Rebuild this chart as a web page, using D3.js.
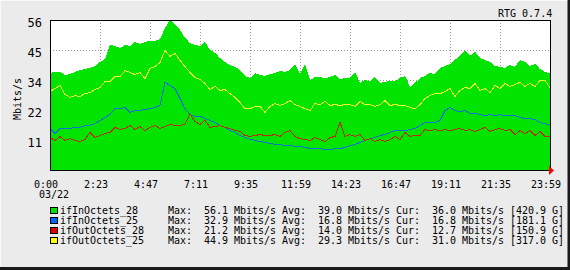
<!DOCTYPE html>
<html>
<head>
<meta charset="utf-8">
<script src="https://cdn.jsdelivr.net/npm/d3@7"></script>
<style>
  body { margin: 0; background: #ebebeb; }
  svg { display: block; font-family: "DejaVu Sans Mono", monospace; }
  text { white-space: pre; }
</style>
</head>
<body>
<div id="chart"></div>
<script>
// ==============================
// DATA (Mbits/s, ~14 min per sample)
// ==============================

const seriesNames = ["ifInOctets_28", "ifInOctets_25", "ifOutOctets_28", "ifOutOctets_25"];
const seriesColors = ["#00e400", "#0064ff", "#e00000", "#ffff00"];
const maxVals = ["56.1", "32.9", "21.2", "44.9"];
const avgVals = ["39.0", "16.8", "14.0", "29.3"];
const curVals = ["36.0", "16.8", "12.7", "31.0"];
const totals = ["[420.9 G]", "[181.1 G]", "[150.9 G]", "[317.0 G]"];

const xTickLabels = ["0:00", "2:23", "4:47", "7:11", "9:35", "11:59", "14:23", "16:47", "19:11", "21:35", "23:59"];
const yTickValues = [11.2, 22.4, 33.6, 44.8, 56];
const yTickLabels = ["11", "22", "34", "45", "56"];

// ifInOctets_28 (filled area)
const in28 = [36.2, 36.6, 36.6, 35.5, 35.8, 36.6, 37.3, 37.7, 38.1, 38.8, 40.3, 41.4, 46.7, 46.3, 45.5, 46.7,
  46.3, 47.8, 47.0, 47.8, 48.2, 48.2, 48.9, 53.0, 56.1, 54.5, 52.3, 49.3, 47.4, 46.7, 46.3, 47.8, 44.8, 43.7,
  41.8, 40.3, 39.2, 38.5, 37.3, 35.1, 34.3, 36.2, 35.5, 35.1, 35.8, 36.2, 37.0, 36.6, 37.3, 39.6, 35.8, 39.6,
  33.6, 34.7, 34.7, 34.3, 34.7, 35.5, 34.0, 34.3, 34.3, 36.6, 32.5, 33.6, 33.2, 34.7, 32.5, 32.9, 33.2, 33.2,
  34.3, 35.1, 31.0, 32.5, 34.3, 35.1, 36.2, 35.8, 38.1, 38.8, 39.6, 41.1, 42.6, 44.8, 42.6, 44.1, 41.8, 41.1,
  40.3, 38.8, 38.5, 38.1, 39.2, 38.5, 41.1, 40.3, 38.8, 39.6, 37.7, 36.6, 36.0];

// ifInOctets_25
const in25 = [15.7, 13.8, 15.7, 15.7, 15.7, 16.1, 16.1, 16.8, 16.8, 17.5, 18.7, 19.8, 20.9, 23.1, 23.1, 23.5,
  21.7, 22.4, 22.4, 22.8, 23.1, 23.5, 24.3, 32.9, 31.7, 30.6, 26.9, 23.1, 20.9, 20.2, 20.2, 19.4, 18.7, 17.9,
  16.8, 16.1, 14.9, 14.2, 13.1, 12.3, 11.6, 11.2, 10.8, 10.5, 10.1, 9.7, 9.7, 9.3, 9.3, 9.0, 9.0, 8.6,
  8.2, 8.2, 8.2, 7.8, 7.8, 8.2, 8.2, 8.6, 9.3, 9.7, 10.5, 11.2, 11.9, 12.3, 13.1, 13.4, 14.2, 14.9,
  14.9, 14.9, 15.3, 15.7, 16.8, 17.9, 17.9, 17.9, 18.7, 22.4, 23.5, 22.4, 22.0, 22.4, 21.3, 21.3, 20.9, 20.5,
  20.9, 20.5, 20.9, 20.5, 20.5, 20.5, 19.8, 19.4, 19.4, 19.0, 17.9, 17.5, 16.8];

// ifOutOctets_28
const out28 = [12.3, 11.2, 12.7, 11.2, 11.9, 11.2, 10.8, 11.6, 14.2, 12.3, 13.1, 13.8, 14.2, 16.1, 15.3, 15.7,
  16.8, 15.3, 16.4, 14.9, 16.1, 16.8, 15.7, 16.4, 17.2, 16.8, 16.8, 17.2, 21.2, 18.3, 17.2, 18.7, 16.1, 16.4,
  16.8, 16.1, 15.7, 14.9, 14.6, 13.1, 12.7, 13.1, 13.4, 13.1, 13.1, 13.4, 12.7, 14.2, 14.9, 12.7, 11.9, 11.6,
  11.2, 12.3, 11.6, 10.8, 12.3, 12.7, 17.9, 12.7, 13.4, 12.7, 13.4, 11.2, 11.9, 10.8, 11.6, 10.8, 11.6, 12.7,
  11.6, 14.2, 12.7, 13.1, 13.1, 15.3, 14.9, 15.3, 14.9, 15.3, 14.9, 15.3, 15.7, 14.9, 15.3, 14.6, 15.3, 16.1,
  14.6, 15.3, 15.7, 14.9, 15.3, 13.4, 14.9, 13.8, 14.9, 13.1, 14.6, 12.7, 12.7];

// ifOutOctets_25
const out25 = [29.5, 30.6, 31.7, 28.4, 27.3, 28.0, 27.6, 28.7, 29.1, 30.2, 31.0, 33.2, 33.2, 35.1, 35.1, 37.3,
  36.6, 35.8, 36.6, 34.3, 38.1, 38.8, 40.3, 44.9, 42.6, 43.7, 41.1, 38.8, 36.6, 34.7, 34.0, 32.5, 30.2, 31.4,
  29.9, 30.2, 28.7, 27.3, 25.4, 23.1, 23.1, 23.9, 23.9, 21.7, 23.9, 25.0, 24.3, 25.0, 26.1, 24.6, 23.9, 23.1,
  22.4, 25.0, 24.6, 25.8, 24.3, 24.6, 24.3, 24.6, 24.6, 23.9, 25.8, 24.6, 24.6, 23.9, 24.6, 26.1, 24.3, 24.6,
  24.3, 24.3, 23.5, 23.1, 24.6, 26.9, 28.0, 28.7, 28.7, 29.5, 30.6, 27.6, 29.9, 31.0, 30.6, 32.5, 29.9, 30.6,
  29.1, 31.7, 30.6, 32.5, 31.4, 32.1, 32.9, 31.4, 32.5, 31.4, 33.6, 33.6, 31.0];

// ==============================
// SVG SETUP
// ==============================

const width = 570;
const height = 270;

// plot box
const plotLeft = 50, plotRight = 550, plotTop = 20, plotBottom = 170;

const svg = d3.select("#chart")
  .append("svg")
  .attr("width", width)
  .attr("height", height);

// outer frame
svg.append("rect")
  .attr("width", width)
  .attr("height", height)
  .attr("fill", "#ebebeb");
svg.append("path")
  .attr("d", `M0.5,${height} V0.5 H${width}`)
  .attr("fill", "none")
  .attr("stroke", "#fafafa");
svg.append("path")
  .attr("d", `M${width - 1},0 V${height - 1.5} H0`)
  .attr("fill", "none")
  .attr("stroke", "#1a1a1a")
  .attr("stroke-width", 3);

// scales: x in minutes of the day, y in Mbits/s
const x = d3.scaleLinear().domain([0, 1439]).range([plotLeft, plotRight]);
const y = d3.scaleLinear().domain([0, 56]).range([plotBottom, plotTop]);
const sampleMinute = i => i * 1439 / (in28.length - 1);

// plot background
svg.append("rect")
  .attr("x", plotLeft)
  .attr("y", plotTop)
  .attr("width", plotRight - plotLeft)
  .attr("height", plotBottom - plotTop)
  .attr("fill", "#ffffff");

// ==============================
// GRID (dotted)
// ==============================

const xTickMinutes = xTickLabels.map((d, i) => i * 1439 / (xTickLabels.length - 1));

const grid = svg.append("g")
  .attr("stroke", "#9a9a9a")
  .attr("stroke-dasharray", "1,2")
  .attr("shape-rendering", "crispEdges");

grid.selectAll("line.v")
  .data(xTickMinutes.slice(1, -1))
  .enter()
  .append("line")
  .attr("x1", d => Math.round(x(d)) + 0.5)
  .attr("x2", d => Math.round(x(d)) + 0.5)
  .attr("y1", plotTop)
  .attr("y2", plotBottom);

grid.selectAll("line.h")
  .data(yTickValues.slice(0, -1))
  .enter()
  .append("line")
  .attr("x1", plotLeft)
  .attr("x2", plotRight)
  .attr("y1", d => Math.round(y(d)) + 0.5)
  .attr("y2", d => Math.round(y(d)) + 0.5);

// ==============================
// SERIES
// ==============================

const area = d3.area()
  .x((d, i) => x(sampleMinute(i)))
  .y0(plotBottom)
  .y1(d => y(d));

svg.append("path")
  .datum(in28)
  .attr("d", area)
  .attr("fill", seriesColors[0])
  .attr("shape-rendering", "crispEdges");

const line = d3.line()
  .x((d, i) => x(sampleMinute(i)))
  .y(d => y(d) + 0.5);

// thin GD-style lines look darker/duller on the green than the legend swatches
const lineColors = ["#1070d8", "#b83000", "#e8ff20"];
[in25, out28, out25].forEach((values, k) => {
  svg.append("path")
    .datum(values)
    .attr("d", line)
    .attr("fill", "none")
    .attr("stroke", lineColors[k])
    .attr("stroke-width", 1)
    .attr("shape-rendering", "crispEdges");
});

// plot border
svg.append("rect")
  .attr("x", plotLeft + 0.5)
  .attr("y", plotTop + 0.5)
  .attr("width", plotRight - plotLeft)
  .attr("height", plotBottom - plotTop)
  .attr("fill", "none")
  .attr("stroke", "#000")
  .attr("shape-rendering", "crispEdges");

// red arrow at end of x axis
svg.append("path")
  .attr("d", `M${plotRight - 1},${plotBottom - 4} L${plotRight + 4},${plotBottom + 0.5} L${plotRight - 1},${plotBottom + 5} Z`)
  .attr("fill", "#ff0000");

// ==============================
// AXIS TEXT
// ==============================

svg.append("g")
  .selectAll("text")
  .data(yTickValues)
  .enter()
  .append("text")
  .attr("x", 42)
  .attr("y", d => y(d) + 7)
  .attr("text-anchor", "end")
  .attr("font-size", 12)
  .text((d, i) => yTickLabels[i]);

svg.append("text")
  .attr("transform", "translate(21,99) rotate(-90)")
  .attr("text-anchor", "middle")
  .attr("font-size", 10)
  .text("Mbits/s");

svg.append("g")
  .selectAll("text")
  .data(xTickMinutes)
  .enter()
  .append("text")
  .attr("x", d => x(d) - 4)
  .attr("y", 188)
  .attr("text-anchor", "middle")
  .attr("font-size", 10)
  .text((d, i) => xTickLabels[i]);

svg.append("text")
  .attr("x", 39)
  .attr("y", 198)
  .attr("font-size", 10)
  .text("03/22");

svg.append("text")
  .attr("x", 498)
  .attr("y", 16.5)
  .attr("font-size", 10)
  .text("RTG 0.7.4");

// ==============================
// LEGEND
// ==============================

const legend = svg.append("g").attr("font-size", 10);

seriesNames.forEach((name, i) => {
  const base = 214 + i * 10;
  legend.append("rect")
    .attr("x", 50.5)
    .attr("y", base - 6.5)
    .attr("width", 7)
    .attr("height", 6)
    .attr("fill", seriesColors[i])
    .attr("stroke", "#000")
    .attr("shape-rendering", "crispEdges");

  // fixed-width columns, like the GD text line in RTG
  const row = name.padEnd(18) +
    `Max:  ${maxVals[i]} Mbits/s Avg:  ${avgVals[i]} Mbits/s Cur:  ${curVals[i]} Mbits/s ${totals[i]}`;
  legend.append("text")
    .attr("x", 60)
    .attr("y", base)
    .attr("textLength", row.length * 6)
    .attr("lengthAdjust", "spacing")
    .text(row);
});
</script>
</body>
</html>
